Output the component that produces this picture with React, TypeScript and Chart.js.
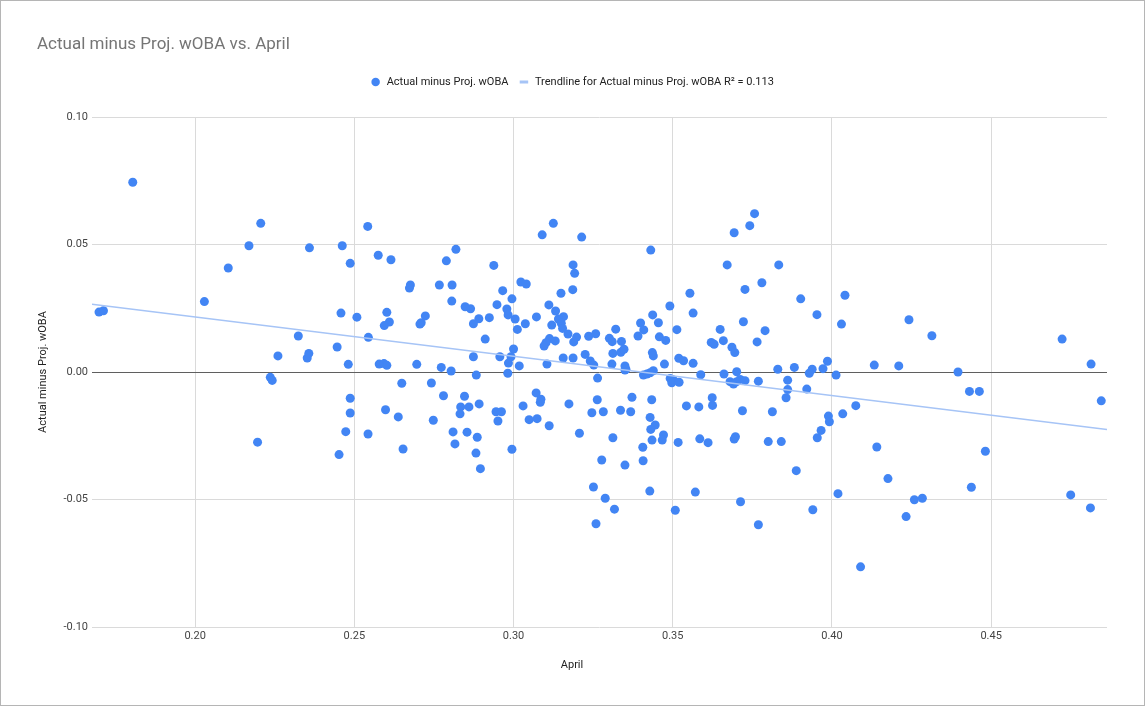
import React, { useEffect, useRef } from "react";
import { Chart, registerables } from "chart.js";

Chart.register(...registerables);

const chartTitle = "Actual minus Proj. wOBA vs. April";
const seriesName = "Actual minus Proj. wOBA";
const trendName = "Trendline for Actual minus Proj. wOBA R² = 0.113";
const xAxisTitle = "April";
const yAxisTitle = "Actual minus Proj. wOBA";

const xRange = [0.1676, 0.4864];
const yRange = [-0.1, 0.1];
const tickStep = 0.05;

// April wOBA (x)
const aprilValues = [
  0.1698, 0.1712, 0.1804, 0.2029, 0.2104, 0.2169, 0.2206, 0.2196, 0.2236, 0.2242,
  0.2260, 0.2324, 0.2352, 0.2357, 0.2359, 0.2446, 0.2452, 0.2458, 0.2462, 0.2473,
  0.2481, 0.2487, 0.2487, 0.2487, 0.2508,
  0.2542, 0.2575, 0.2615, 0.2819, 0.2789, 0.2938, 0.3090, 0.3125, 0.3214, 0.3187,
  0.3192, 0.3186, 0.3149, 0.3023, 0.3040, 0.2966, 0.2995, 0.2948, 0.2979, 0.2983,
  0.3005, 0.3012, 0.3037, 0.3072, 0.3111, 0.3132, 0.3157, 0.3141, 0.3150, 0.3154,
  0.3120, 0.3171, 0.3198, 0.3189, 0.3236, 0.3258, 0.3113, 0.3102, 0.3096, 0.3131,
  0.3225, 0.3241, 0.3252, 0.3156, 0.3187, 0.3264, 0.3105, 0.3000, 0.2992, 0.2984,
  0.3018, 0.2982, 0.2957, 0.2874, 0.2883, 0.2911, 0.2924, 0.2891, 0.2874, 0.2848,
  0.2865, 0.2806, 0.2767, 0.2807, 0.2676, 0.2673, 0.2723, 0.2710, 0.2706, 0.2602,
  0.2610, 0.2594, 0.2544, 0.2578, 0.2593, 0.2602, 0.2696, 0.2773, 0.2804,
  0.2649, 0.2742, 0.2543, 0.2598, 0.2638, 0.2653, 0.2748, 0.2780, 0.2846, 0.2834,
  0.2860, 0.2832, 0.2892, 0.2810, 0.2854, 0.2816, 0.2886, 0.2882, 0.2896, 0.2945,
  0.2962, 0.2951, 0.2995, 0.3030, 0.3071, 0.3086, 0.3084, 0.3049, 0.3074, 0.3112,
  0.3174, 0.3207, 0.3263, 0.3246, 0.3282, 0.3277, 0.3251, 0.3288, 0.3259,
  0.3317, 0.3350, 0.3408, 0.3419, 0.3429, 0.3439, 0.3312, 0.3336, 0.3368, 0.3372,
  0.3350, 0.3434, 0.3429, 0.3445, 0.3431, 0.3471, 0.3467, 0.3435, 0.3406, 0.3407,
  0.3428, 0.3492, 0.3502, 0.3497, 0.3520, 0.3517, 0.3508, 0.3543, 0.3582, 0.3588,
  0.3585, 0.3611, 0.3571, 0.3624, 0.3625, 0.3661, 0.3701, 0.3680, 0.3691, 0.3701,
  0.3712, 0.3727, 0.3719, 0.3693, 0.3697, 0.3713, 0.3769, 0.3769, 0.3813, 0.3800,
  0.3841, 0.3861, 0.3861, 0.3856, 0.3921, 0.3888, 0.4013, 0.3940, 0.3989, 0.3992,
  0.3966, 0.3954, 0.4034, 0.4075, 0.4019, 0.4090,
  0.3431, 0.3693, 0.3742, 0.3757, 0.3671, 0.3833, 0.3780, 0.3727, 0.3902, 0.4041,
  0.4030, 0.3953, 0.3722, 0.3790, 0.3765, 0.3554, 0.3564, 0.3491, 0.3513, 0.3437,
  0.3455, 0.3399, 0.3409, 0.3391, 0.3458, 0.3478, 0.3321, 0.3301, 0.3310, 0.3339,
  0.3312, 0.3337, 0.3347, 0.3309, 0.3350, 0.3353, 0.3436, 0.3439, 0.3474, 0.3519,
  0.3534, 0.3564, 0.3621, 0.3630, 0.3659, 0.3649, 0.3686, 0.3695, 0.3830, 0.3882,
  0.3938, 0.3929, 0.3972, 0.3986,
  0.4242, 0.4314, 0.4133, 0.4210, 0.4396, 0.4723, 0.4814,
  0.4432, 0.4463, 0.4846, 0.4141, 0.4176, 0.4482, 0.4438, 0.4259, 0.4284, 0.4233,
  0.4750, 0.4812,
];

// Actual minus projected wOBA (y)
const diffValues = [
  0.0235, 0.0240, 0.0744, 0.0276, 0.0408, 0.0495, 0.0583, -0.0275, -0.0021, -0.0033,
  0.0063, 0.0141, 0.0055, 0.0073, 0.0487, 0.0098, -0.0324, 0.0231, 0.0495, -0.0234,
  0.0030, 0.0426, -0.0103, -0.0161, 0.0215,
  0.0571, 0.0458, 0.0440, 0.0481, 0.0436, 0.0418, 0.0538, 0.0583, 0.0529, 0.0420,
  0.0387, 0.0323, 0.0309, 0.0353, 0.0345, 0.0319, 0.0287, 0.0264, 0.0247, 0.0224,
  0.0208, 0.0167, 0.0189, 0.0216, 0.0263, 0.0239, 0.0217, 0.0208, 0.0191, 0.0171,
  0.0184, 0.0149, 0.0137, 0.0118, 0.0140, 0.0150, 0.0131, 0.0115, 0.0102, 0.0122,
  0.0069, 0.0043, 0.0027, 0.0055, 0.0055, -0.0024, 0.0031, 0.0090, 0.0060, 0.0035,
  0.0024, -0.0005, 0.0060, 0.0060, -0.0012, 0.0129, 0.0213, 0.0209, 0.0189, 0.0256,
  0.0248, 0.0278, 0.0341, 0.0341, 0.0341, 0.0329, 0.0220, 0.0193, 0.0188, 0.0234,
  0.0196, 0.0182, 0.0136, 0.0031, 0.0033, 0.0026, 0.0030, 0.0018, 0.0004,
  -0.0044, -0.0043, -0.0243, -0.0148, -0.0176, -0.0302, -0.0189, -0.0093, -0.0095, -0.0137,
  -0.0137, -0.0164, -0.0125, -0.0235, -0.0236, -0.0282, -0.0256, -0.0318, -0.0379, -0.0156,
  -0.0156, -0.0192, -0.0303, -0.0133, -0.0082, -0.0107, -0.0119, -0.0187, -0.0183, -0.0211,
  -0.0125, -0.0240, -0.0109, -0.0160, -0.0156, -0.0345, -0.0451, -0.0495, -0.0595,
  -0.0538, 0.0008, -0.0012, -0.0008, -0.0003, 0.0005, -0.0258, -0.0150, -0.0156, -0.0099,
  -0.0365, -0.0109, -0.0178, -0.0208, -0.0225, -0.0247, -0.0267, -0.0267, -0.0295, -0.0348,
  -0.0467, -0.0025, -0.0031, -0.0042, -0.0040, -0.0276, -0.0542, -0.0133, -0.0137, -0.0011,
  -0.0262, -0.0277, -0.0471, -0.0101, -0.0131, -0.0008, 0.0001, -0.0038, -0.0047, -0.0038,
  -0.0029, -0.0034, -0.0152, -0.0263, -0.0254, -0.0509, -0.0036, -0.0599, -0.0156, -0.0273,
  -0.0273, -0.0032, -0.0069, -0.0101, -0.0067, -0.0387, -0.0012, -0.0540, -0.0173, -0.0195,
  -0.0229, -0.0258, -0.0164, -0.0132, -0.0477, -0.0764,
  0.0478, 0.0546, 0.0574, 0.0621, 0.0420, 0.0420, 0.0350, 0.0324, 0.0287, 0.0301,
  0.0188, 0.0225, 0.0197, 0.0162, 0.0118, 0.0309, 0.0231, 0.0259, 0.0166, 0.0224,
  0.0193, 0.0192, 0.0165, 0.0141, 0.0138, 0.0124, 0.0168, 0.0132, 0.0119, 0.0120,
  0.0073, 0.0077, 0.0089, 0.0031, 0.0024, 0.0011, 0.0076, 0.0063, 0.0031, 0.0054,
  0.0044, 0.0034, 0.0116, 0.0109, 0.0123, 0.0167, 0.0097, 0.0076, 0.0011, 0.0018,
  0.0011, -0.0005, 0.0013, 0.0042,
  0.0205, 0.0142, 0.0027, 0.0024, 0.0000, 0.0129, 0.0031,
  -0.0076, -0.0076, -0.0113, -0.0294, -0.0418, -0.0311, -0.0452, -0.0501, -0.0495, -0.0567,
  -0.0482, -0.0533,
];

// Trendline end points (at the plot edges)
const trendX = [0.1676, 0.4864];
const trendY = [0.0266, -0.0226];

const pointColor = "#4285F4";
const trendColor = "#A6C4F6";
const FONT = "Roboto, 'Noto Sans', Arial, sans-serif";

export default function App() {
  const canvasRef = useRef<HTMLCanvasElement | null>(null);

  useEffect(() => {
    const canvas = canvasRef.current;
    if (!canvas) return;

    const scatterData = aprilValues.map((x, i) => ({ x, y: diffValues[i] }));
    const trendData = trendX.map((x, i) => ({ x, y: trendY[i] }));

    const chart = new Chart(canvas, {
      type: "scatter",
      data: {
        datasets: [
          {
            type: "line",
            label: trendName,
            data: trendData,
            borderColor: trendColor,
            backgroundColor: trendColor,
            borderWidth: 1.5,
            pointRadius: 0,
            fill: false,
            order: 0,
            xAxisID: "x",
            yAxisID: "y",
          } as any,
          {
            type: "scatter",
            label: seriesName,
            data: scatterData,
            backgroundColor: pointColor,
            borderColor: pointColor,
            borderWidth: 0,
            pointRadius: 4.5,
            pointHoverRadius: 4.5,
            order: 1,
            xAxisID: "x",
            yAxisID: "y",
          } as any,
        ],
      },
      options: {
        responsive: false,
        animation: false,
        layout: { padding: { left: 36, right: 37, top: 0, bottom: 0 } },
        plugins: {
          tooltip: { enabled: false },
          title: {
            display: true,
            text: chartTitle,
            align: "start",
            color: "#757575",
            font: { family: FONT, size: 17, weight: "normal" },
            padding: { top: 34, bottom: 11 },
          },
          subtitle: {
            display: true,
            text: "",
            weight: 500,
            font: { family: FONT, size: 10 },
            padding: { top: 0, bottom: 7.6 },
          } as any,
          legend: {
            display: true,
            position: "top",
            align: "center",
            labels: {
              usePointStyle: true,
              boxHeight: 6,
              padding: 10,
              color: "#222222",
              font: { family: FONT, size: 11 },
              generateLabels: () => [
                {
                  text: seriesName,
                  fillStyle: pointColor,
                  strokeStyle: pointColor,
                  lineWidth: 0,
                  pointStyle: "circle",
                  hidden: false,
                  datasetIndex: 1,
                  fontColor: "#222222",
                },
                {
                  text: trendName,
                  fillStyle: trendColor,
                  strokeStyle: trendColor,
                  lineWidth: 3,
                  pointStyle: "line",
                  hidden: false,
                  datasetIndex: 0,
                  fontColor: "#222222",
                },
              ],
            },
          },
        },
        scales: {
          x: {
            type: "linear",
            position: "bottom",
            min: xRange[0],
            max: xRange[1],
            border: { display: false },
            grid: { color: "#dadada", lineWidth: 1, drawTicks: false },
            ticks: {
              stepSize: tickStep,
              includeBounds: false,
              padding: 3,
              maxRotation: 0,
              color: "#444444",
              font: { family: FONT, size: 11 },
              callback: (v: any) => Number(v).toFixed(2),
            },
            afterFit: (s: any) => {
              s.height = 30;
            },
          },
          // Carries only the x-axis title, centred on the full chart width
          xTitle: {
            type: "linear",
            position: "bottom",
            fullSize: true,
            weight: 1,
            display: true,
            border: { display: false },
            grid: { display: false, drawTicks: false },
            ticks: { display: false },
            title: {
              display: true,
              text: xAxisTitle,
              color: "#222222",
              font: { family: FONT, size: 11 },
              padding: { top: 0, bottom: 33 },
            },
            afterFit: (s: any) => {
              s.height = 48;
            },
          } as any,
          y: {
            type: "linear",
            min: yRange[0],
            max: yRange[1],
            border: { display: false },
            grid: {
              drawTicks: false,
              lineWidth: 1,
              color: (ctx: any) =>
                ctx.tick && Math.abs(ctx.tick.value) < 1e-9 ? "#5f5f5f" : "#dadada",
            },
            ticks: {
              stepSize: tickStep,
              padding: 4,
              color: "#444444",
              font: { family: FONT, size: 11 },
              callback: (v: any) => Number(v).toFixed(2),
            },
            title: {
              display: true,
              text: yAxisTitle,
              color: "#222222",
              font: { family: FONT, size: 11 },
              padding: { top: 0, bottom: 0 },
            },
            afterFit: (s: any) => {
              s.width = 55;
            },
          },
        },
      },
    });

    return () => chart.destroy();
  }, []);

  return (
    <div
      style={{
        position: "fixed",
        left: 0,
        top: 0,
        width: 1145,
        height: 706,
        boxSizing: "border-box",
        border: "1px solid #b5b5b5",
        background: "#ffffff",
      }}
    >
      <canvas
        ref={canvasRef}
        width={1143}
        height={704}
        style={{ display: "block", width: 1143, height: 704 }}
      />
    </div>
  );
}
